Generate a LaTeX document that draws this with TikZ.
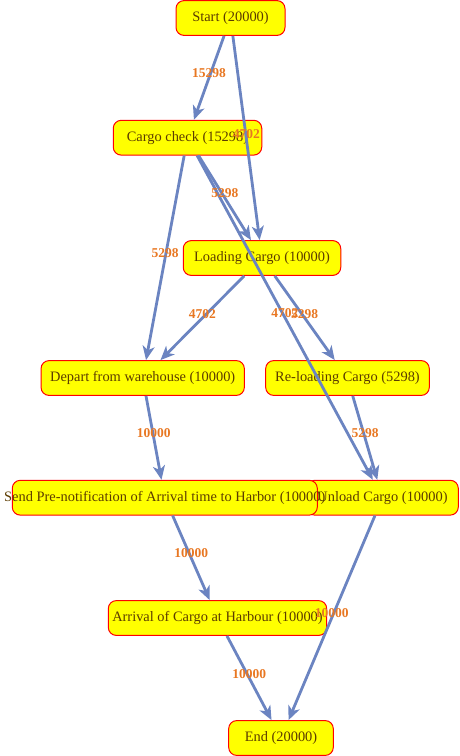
\documentclass[tikz,border=0pt]{standalone}
\usepackage{fontspec}
\setmainfont{Liberation Serif}
\usetikzlibrary{arrows.meta}

\definecolor{boxfill}{RGB}{255,255,0}
\definecolor{boxline}{RGB}{255,0,0}
\definecolor{boxtextcol}{RGB}{92,60,0}
\definecolor{flowcol}{RGB}{107,132,193}
\definecolor{countcol}{RGB}{232,119,34}

\tikzset{
  activity/.style={rectangle, rounded corners=8pt, draw=boxline, line width=1pt,
    fill=boxfill, inner sep=0pt, minimum height=34.8pt},
  boxtext/.style={text=boxtextcol, font=\fontsize{14.4}{16}\selectfont, inner sep=0pt},
  flow/.style={draw=flowcol, line width=2.8pt,
    -{Stealth[length=14pt, width=12pt, inset=4pt]}},
  count/.style={text=countcol, font=\fontsize{13.5}{15}\selectfont\bfseries,
    anchor=base, inner sep=0pt}
}

\begin{document}
\begin{tikzpicture}[x=1pt, y=-1pt]
\useasboundingbox (0,0) rectangle (459,756);

% activities
\node[activity, minimum width=109pt, label={[boxtext]center:Start (20000)}] (start) at (230.5,18) {};
\node[activity, minimum width=148.5pt, label={[boxtext]center:Cargo check (15298)}] (check) at (187.5,137.7) {};
\node[activity, minimum width=157.5pt, label={[boxtext]center:Loading Cargo (10000)}] (load) at (262,258) {};
\node[activity, minimum width=203.3pt, label={[boxtext]center:Depart from warehouse (10000)}] (depart) at (142.7,378) {};
\node[activity, minimum width=163.6pt, label={[boxtext]center:Re-loading Cargo (5298)}] (reload) at (347.5,378) {};
\node[activity, minimum width=151.6pt, label={[boxtext]center:Unload Cargo (10000)}] (unload) at (382.5,497.7) {};
\node[activity, minimum width=305pt, label={[boxtext]center:Send Pre-notification of Arrival time to Harbor (10000)}] (send) at (164.8,497.7) {};
\node[activity, minimum width=218.4pt, label={[boxtext]center:Arrival of Cargo at Harbour (10000)}] (arrival) at (217.5,618) {};
\node[activity, minimum width=104.6pt, label={[boxtext]center:End (20000)}] (end) at (281,738) {};

% flows between activities
\draw[flow] (start) -- coordinate[midway] (m1) (check);
\draw[flow] (start) -- coordinate[midway] (m2) (load);
\draw[flow] (check) -- coordinate[midway] (m3) (load);
\draw[flow] (check) -- coordinate[midway] (m4) (depart);
\draw[flow] (check) -- coordinate[midway] (m5) (unload);
\draw[flow] (load) -- coordinate[midway] (m6) (depart);
\draw[flow] (load) -- coordinate[midway] (m7) (reload);
\draw[flow] (depart) -- coordinate[midway] (m8) (send);
\draw[flow] (reload) -- coordinate[midway] (m9) (unload);
\draw[flow] (send) -- coordinate[midway] (m10) (arrival);
\draw[flow] (unload) -- coordinate[midway] (m11) (end);
\draw[flow] (arrival) -- coordinate[midway] (m12) (end);

% case counts on the flows
\node[count] (c1) at (m1) {15298};
\node[count] (c2) at (m2) {4702};
\node[count] (c3) at (m3) {5298};
\node[count] (c4) at (m4) {5298};
\node[count] (c5) at (m5) {4702};
\node[count] (c6) at (m6) {4702};
\node[count] (c7) at (m7) {5298};
\node[count] (c8) at (m8) {10000};
\node[count] (c9) at (m9) {5298};
\node[count] (c10) at (m10) {10000};
\node[count] (c11) at (m11) {10000};
\node[count] (c12) at (m12) {10000};
\end{tikzpicture}
\end{document}
